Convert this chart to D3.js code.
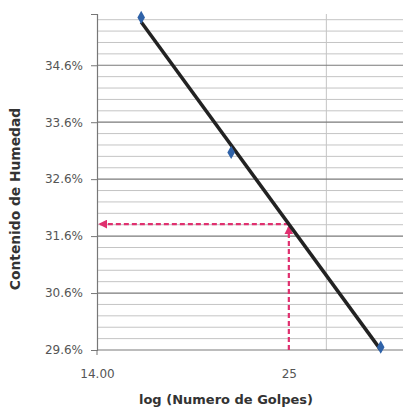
<!DOCTYPE html>
<html>
<head>
<meta charset="utf-8">
<script src="https://cdn.jsdelivr.net/npm/d3@7"></script>
<style>
html,body{margin:0;padding:0;background:#fff;}
svg{display:block;}
text{font-family:"DejaVu Sans","Open Sans",sans-serif;}
</style>
</head>
<body>
<svg id="chart" width="409" height="408"></svg>
<script>
// ---- data ----
const blows = [16, 21, 33];
const moisture = [35.44, 33.07, 29.65];
const yMajorTicks = [29.6, 30.6, 31.6, 32.6, 33.6, 34.6];
const yMinorTicks = [29.8,30.0,30.2,30.4,30.8,31.0,31.2,31.4,31.8,32.0,32.2,32.4,32.8,33.0,33.2,33.4,33.8,34.0,34.2,34.4,34.8,35.0,35.2,35.4];
const xTickValues = [14, 25];
const xTickLabels = ["14.00", "25"];
const xGridValues = [28];
const referenceBlows = 25;

(function(){
const svg = d3.select("#chart");
const pL = 97, pR = 403, pT = 14, pB = 350;
const x = d3.scaleLog().domain([14, 35.3]).range([pL, pR]);
const y = d3.scaleLinear().domain([29.6, 35.5]).range([pB, pT]);

// regression of moisture vs log10(blows)
const lx = blows.map(b => Math.log10(b));
const mx = d3.mean(lx), my = d3.mean(moisture);
const slope = d3.sum(lx.map((v,i)=>(v-mx)*(moisture[i]-my))) / d3.sum(lx.map(v=>(v-mx)*(v-mx)));
const fit = b => my + slope*(Math.log10(b)-mx);

// minor grid
svg.append("g").selectAll("line").data(yMinorTicks).join("line")
  .attr("x1", pL).attr("x2", pR)
  .attr("y1", d=>y(d)).attr("y2", d=>y(d))
  .attr("stroke", "#c4c4c4").attr("stroke-width", 1);
// vertical grid
svg.append("g").selectAll("line").data(xGridValues).join("line")
  .attr("x1", d=>x(d)).attr("x2", d=>x(d))
  .attr("y1", pT).attr("y2", pB)
  .attr("stroke", "#c4c4c4").attr("stroke-width", 1);
// major grid
svg.append("g").selectAll("line").data(yMajorTicks).join("line")
  .attr("x1", pL).attr("x2", pR)
  .attr("y1", d=>y(d)).attr("y2", d=>y(d))
  .attr("stroke", "#7a7a7a").attr("stroke-width", 1.2);

// y axis
const yAxis = d3.axisLeft(y).tickValues(yMajorTicks).tickSize(6).tickPadding(8)
  .tickFormat(d => d.toFixed(1) + "%");
const gy = svg.append("g").attr("transform", `translate(${pL},0)`).call(yAxis);
gy.select(".domain").attr("stroke", "#777").attr("stroke-width", 1.2);
gy.selectAll(".tick line").attr("stroke", "#777");
gy.selectAll(".tick text").attr("fill", "#555").attr("font-size", 12)
  .attr("font-family", "DejaVu Sans");

// x axis
const xAxis = d3.axisBottom(x).tickValues(xTickValues).tickSize(0).tickPadding(19)
  .tickFormat((d,i) => xTickLabels[i]);
const gx = svg.append("g").attr("transform", `translate(0,${pB})`).call(xAxis);
gx.select(".domain").remove();
gx.selectAll(".tick text").attr("fill", "#555").attr("font-size", 12)
  .attr("font-family", "DejaVu Sans");
svg.append("line").attr("x1", pL).attr("x2", pL).attr("y1", pB).attr("y2", pB+5)
  .attr("stroke", "#777");

// arrows
const defs = svg.append("defs");
defs.append("marker").attr("id","arr").attr("viewBox","0 0 10 10").attr("refX",8).attr("refY",5)
  .attr("markerWidth",4).attr("markerHeight",4).attr("orient","auto-start-reverse")
  .append("path").attr("d","M0,0L10,5L0,10z").attr("fill","#e0306f");
const yRef = fit(referenceBlows);
svg.append("line")
  .attr("x1", x(referenceBlows)).attr("y1", pB)
  .attr("x2", x(referenceBlows)).attr("y2", y(yRef)+3)
  .attr("stroke","#e0306f").attr("stroke-width",2.2).attr("stroke-dasharray","5,3")
  .attr("marker-end","url(#arr)");
svg.append("line")
  .attr("x1", x(referenceBlows)).attr("y1", y(yRef))
  .attr("x2", pL+3).attr("y2", y(yRef))
  .attr("stroke","#e0306f").attr("stroke-width",2.2).attr("stroke-dasharray","5,3")
  .attr("marker-end","url(#arr)");

// trend line
const bMin = d3.min(blows), bMax = d3.max(blows);
svg.append("line")
  .attr("x1", x(bMin)).attr("y1", y(fit(bMin)))
  .attr("x2", x(bMax)).attr("y2", y(fit(bMax)))
  .attr("stroke","#222").attr("stroke-width",3.5);

// points
svg.append("g").selectAll("path").data(blows).join("path")
  .attr("d", d3.symbol().type(d3.symbolDiamond).size(50))
  .attr("transform", (d,i)=>`translate(${x(d)},${y(moisture[i])})`)
  .attr("fill", "#2f62a8");

// axis titles
svg.append("text").attr("x", 226).attr("y", 404).attr("text-anchor","middle")
  .attr("font-family", "Open Sans").attr("font-size", 13).attr("font-weight","bold").attr("fill","#333")
  .text("log (Numero de Golpes)");
svg.append("text").attr("transform","translate(20,199) rotate(-90)").attr("text-anchor","middle")
  .attr("font-family", "Open Sans").attr("font-size", 13.8).attr("font-weight","bold").attr("fill","#333")
  .text("Contenido de Humedad");
})();
</script>
</body>
</html>
